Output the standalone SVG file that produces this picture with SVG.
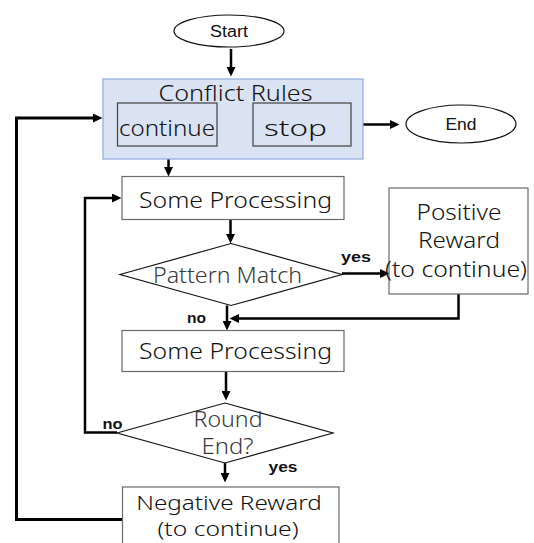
<svg xmlns="http://www.w3.org/2000/svg" width="534" height="543" viewBox="0 0 534 543">
<style>
.bg{fill:#ffffff}
.t{font-family:"Noto Sans","Liberation Sans",sans-serif;font-weight:300;font-size:22px;fill:#111;text-anchor:middle}
.tg{fill:#3a3a3a}
.tn{font-size:20px}
.s{font-family:"Liberation Sans",Arial,sans-serif;font-size:16px;fill:#111;text-anchor:middle}
.lb{font-family:"Liberation Sans",Arial,sans-serif;font-weight:bold;font-size:15px;fill:#111}
.box{fill:#fff;stroke:#6a6a6a;stroke-width:1.2}
.inner{fill:none;stroke:#404040;stroke-width:1.2}
.cr{fill:#dae3f3;stroke:#8eaadb;stroke-width:1.2}
.dia{fill:#fff;stroke:#111;stroke-width:1.2}
.ell{fill:#fff;stroke:#111;stroke-width:1.2}
.c{fill:none;stroke:#000;stroke-width:2.5;marker-end:url(#ah)}
</style>
<defs>
<marker id="ah" markerUnits="userSpaceOnUse" markerWidth="10" markerHeight="9" refX="6" refY="4.5" orient="auto">
<path d="M0,0 L9.5,4.5 L0,9 z" fill="#000"/>
</marker>
</defs>
<rect class="bg" x="0" y="0" width="534" height="543"/>
<g id="connectors">
<line class="c" x1="231" y1="49" x2="231" y2="73"/>
<line class="c" x1="351" y1="124.5" x2="396" y2="124.5"/>
<path class="c" d="M122,519.5 H16.5 V118 H99" style="stroke-width:3"/>
<line class="c" x1="168.5" y1="146" x2="168.5" y2="173"/>
<path class="c" d="M117,432.5 H85 V198 H118"/>
<line class="c" x1="230.5" y1="219.5" x2="230.5" y2="240"/>
<line class="c" x1="342" y1="273.5" x2="386" y2="273.5"/>
<path class="c" d="M458.5,294 V318.5 H233"/>
<line class="c" x1="227" y1="305.5" x2="227" y2="327"/>
<line class="c" x1="226" y1="371.5" x2="226" y2="397"/>
<line class="c" x1="225" y1="463" x2="225" y2="479"/>
<text class="lb" x="341" y="262" textLength="30" lengthAdjust="spacingAndGlyphs">yes</text>
<text class="lb" x="187" y="322.5" textLength="19" lengthAdjust="spacingAndGlyphs">no</text>
<text class="lb" x="102.5" y="429" textLength="20" lengthAdjust="spacingAndGlyphs">no</text>
<text class="lb" x="268.5" y="472" textLength="29" lengthAdjust="spacingAndGlyphs">yes</text>
</g>
<g id="start">
<ellipse class="ell" cx="229" cy="31" rx="55" ry="16"/>
<text class="s" x="229" y="37" textLength="38" lengthAdjust="spacingAndGlyphs">Start</text>
</g>
<g id="conflict-rules">
<rect class="cr" x="103" y="79" width="260" height="80"/>
<text class="t" x="235.5" y="101" textLength="154" lengthAdjust="spacingAndGlyphs">Conflict Rules</text>
</g>
<g id="continue">
<rect class="inner" x="117.5" y="103" width="99.5" height="43"/>
<text class="t" x="167" y="135.5" textLength="96" lengthAdjust="spacingAndGlyphs">continue</text>
</g>
<g id="stop">
<rect class="inner" x="253" y="103" width="98" height="43"/>
<text class="t" x="295.5" y="135.5" textLength="63" lengthAdjust="spacingAndGlyphs">stop</text>
</g>
<g id="end">
<ellipse class="ell" cx="461" cy="124" rx="55" ry="19"/>
<text class="s" x="461" y="130" textLength="31" lengthAdjust="spacingAndGlyphs">End</text>
</g>
<g id="some-processing-1">
<rect class="box" x="122" y="176.5" width="222" height="43"/>
<text class="t" x="235.5" y="207.5" textLength="193" lengthAdjust="spacingAndGlyphs">Some Processing</text>
</g>
<g id="pattern-match">
<polygon class="dia" points="120,274.5 231,243.5 342,274.5 231,305.5"/>
<text class="t tg" x="227.5" y="283" textLength="149" lengthAdjust="spacingAndGlyphs">Pattern Match</text>
</g>
<g id="positive-reward">
<rect class="box" x="389" y="188" width="139" height="106"/>
<text class="t" x="459" y="219.5" textLength="85" lengthAdjust="spacingAndGlyphs">Positive</text>
<text class="t" x="459" y="248" textLength="82" lengthAdjust="spacingAndGlyphs">Reward</text>
<text class="t" x="456" y="277" textLength="142" lengthAdjust="spacingAndGlyphs">(to continue)</text>
</g>
<g id="some-processing-2">
<rect class="box" x="122" y="330.5" width="222" height="41"/>
<text class="t" x="235.5" y="358.5" textLength="193" lengthAdjust="spacingAndGlyphs">Some Processing</text>
</g>
<g id="round-end">
<polygon class="dia" points="117,433 225,403 333,433 225,463"/>
<text class="t tg" x="228" y="427" textLength="69" lengthAdjust="spacingAndGlyphs">Round</text>
<text class="t tg" x="227.5" y="454" textLength="52" lengthAdjust="spacingAndGlyphs">End?</text>
</g>
<g id="negative-reward">
<rect class="box" x="122.5" y="487" width="216.5" height="70"/>
<text class="t tn" x="229" y="509.5" textLength="185.5" lengthAdjust="spacingAndGlyphs">Negative Reward</text>
<text class="t tn" x="228" y="536" textLength="141" lengthAdjust="spacingAndGlyphs">(to continue)</text>
</g>
</svg>
